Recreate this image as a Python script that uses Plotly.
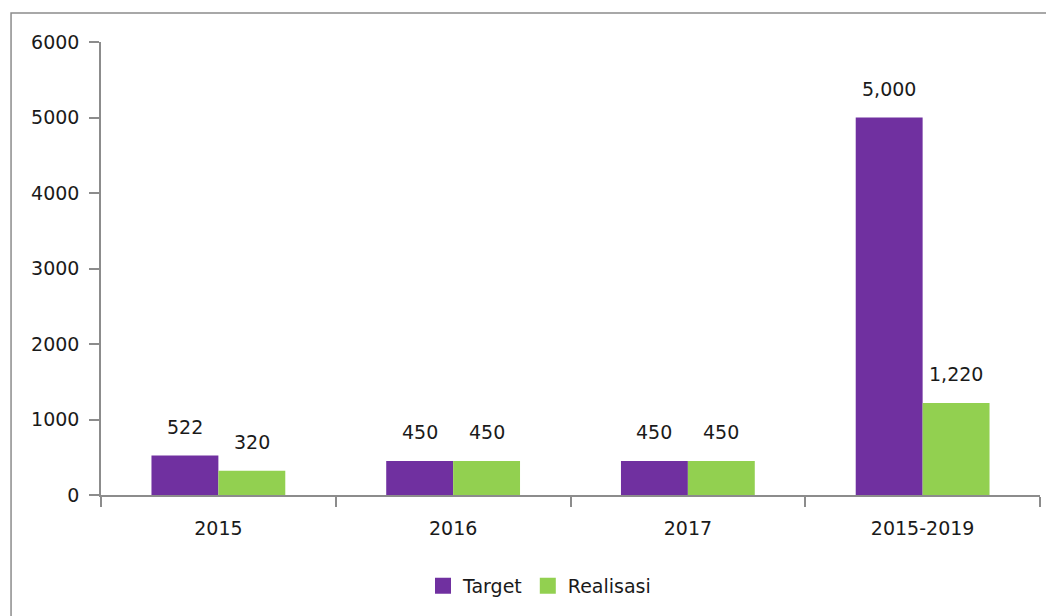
"""
Grouped bar chart: Target vs Realisasi per period (2015 .. 2015-2019).
"""

import plotly.graph_objects as go

# Data
categories = ["2015", "2016", "2017", "2015-2019"]
target = [522, 450, 450, 5000]
realisasi = [320, 450, 450, 1220]
target_labels = ["522", "450", "450", "5,000"]
realisasi_labels = ["320", "450", "450", "1,220"]
y_ticks = [0, 1000, 2000, 3000, 4000, 5000, 6000]

COLORS = {"Target": "#7030A0", "Realisasi": "#92D050"}
FONT = dict(family="DejaVu Sans", size=19, color="#1a1a1a")
AXIS_GREY = "#8c8c8c"

fig = go.Figure()
for name, values in [("Target", target), ("Realisasi", realisasi)]:
    fig.add_trace(go.Bar(
        x=categories, y=values, name=name, showlegend=False,
        marker=dict(color=COLORS[name], line=dict(width=0)),
    ))

# Legend-only traces so the swatches are the larger squares of the source
for name in ["Target", "Realisasi"]:
    fig.add_trace(go.Scatter(
        x=[None], y=[None], mode="markers", name=name,
        marker=dict(color=COLORS[name], symbol="square", size=16),
    ))

# Value labels sit a bit above each bar, as in the source.
# Category axis annotations take the category index (numeric-looking
# strings like "2015" would otherwise be read as a position).
for idx, (series, labels) in enumerate([(target, target_labels), (realisasi, realisasi_labels)]):
    for pos, (val, lab) in enumerate(zip(series, labels)):
        fig.add_annotation(
            x=pos, y=val, text=lab, showarrow=False,
            xshift=(-1 if idx == 0 else 1) * 33.5, yshift=29,
            yanchor="middle", font=FONT,
        )

# The page body has an 8px default margin, so the figure is sized to fit
# the 1054x616 window and the margins are shifted accordingly.
fig.update_layout(
    width=1046, height=608,
    margin=dict(l=93, r=14, t=34, b=120),
    paper_bgcolor="white", plot_bgcolor="white",
    barmode="group", bargap=0.43, bargroupgap=0,
    font=FONT,
    showlegend=True,
    legend=dict(
        orientation="h", x=0.467, xanchor="center", y=-0.198, yanchor="middle",
        font=FONT, itemwidth=30, traceorder="normal",
    ),
    # outer chart frame
    shapes=[dict(
        type="rect", xref="paper", yref="paper",
        x0=-0.0958, x1=1.2, y0=-0.5, y1=1.0639,
        line=dict(color=AXIS_GREY, width=1.5), fillcolor="rgba(0,0,0,0)",
        layer="below",
    )],
)
fig.update_xaxes(
    type="category", automargin=False, range=[-0.5, len(categories) - 0.5],
    showline=True, linecolor=AXIS_GREY, linewidth=1.5,
    ticks="outside", tickson="boundaries", ticklen=10, tickcolor=AXIS_GREY,
    tickwidth=1.5, ticklabelstandoff=15, showgrid=False, tickfont=FONT,
    tickangle=0,
)
fig.update_yaxes(
    range=[0, 6000], tickvals=y_ticks, automargin=False,
    showline=True, linecolor=AXIS_GREY, linewidth=1.5,
    ticks="outside", ticklen=10, tickcolor=AXIS_GREY, tickwidth=1.5,
    ticklabelstandoff=6, showgrid=False, zeroline=False, tickfont=FONT,
)

fig.write_html("out.html")
